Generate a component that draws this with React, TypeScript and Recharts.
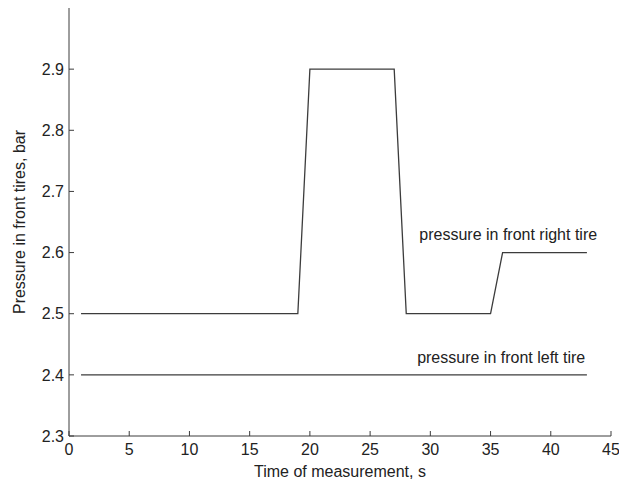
import { LineChart, Line, XAxis, YAxis, ReferenceDot } from "recharts";

// time of measurement, s
const times = [1, 19, 20, 27, 28, 35, 36, 43];
// pressure, bar
const frontRight = [2.5, 2.5, 2.9, 2.9, 2.5, 2.5, 2.6, 2.6];
const frontLeft = [2.4, 2.4, 2.4, 2.4, 2.4, 2.4, 2.4, 2.4];

const xTicks = [0, 5, 10, 15, 20, 25, 30, 35, 40, 45];
const yTicks = [2.3, 2.4, 2.5, 2.6, 2.7, 2.8, 2.9];

const rows = times.map((t, i) => ({ t, right: frontRight[i], left: frontLeft[i] }));

const FONT = "'Liberation Sans', Arial, sans-serif";
const INK = "#222";
const LINE = "#3c3c3c";

const YTitle = ({ viewBox }: any) => {
  const x = viewBox.x + 10;
  const y = viewBox.y + viewBox.height / 2;
  return (
    <text
      x={x}
      y={y}
      transform={`rotate(-90 ${x} ${y})`}
      textAnchor="middle"
      dominantBaseline="central"
      fontSize={16}
      fontFamily={FONT}
      fill={INK}
    >
      Pressure in front tires, bar
    </text>
  );
};

export default function App() {
  const tick = { fontSize: 16, fontFamily: FONT, fill: INK };
  return (
    <div style={{ position: "absolute", left: 0, top: 0, width: 619, height: 491, background: "#fff" }}>
      <LineChart width={619} height={491} data={rows} margin={{ top: 8, right: 8, left: 9, bottom: 25 }}>
        <XAxis
          dataKey="t"
          type="number"
          domain={[0, 45]}
          ticks={xTicks}
          height={30}
          tickSize={-5}
          tickMargin={13}
          tick={tick}
          stroke={LINE}
          label={{ value: "Time of measurement, s", position: "bottom", offset: 0, fontSize: 16, fontFamily: FONT, fill: INK }}
        />
        <YAxis
          type="number"
          domain={[2.3, 3.0]}
          ticks={yTicks}
          width={60}
          tickSize={-5}
          tickMargin={10}
          tick={tick}
          stroke={LINE}
          tickFormatter={(v: number) => v.toFixed(1)}
          label={<YTitle />}
        />
        <Line dataKey="right" stroke={LINE} strokeWidth={1.3} dot={false} isAnimationActive={false} />
        <Line dataKey="left" stroke={LINE} strokeWidth={1.3} dot={false} isAnimationActive={false} />
        <ReferenceDot
          x={43.85}
          y={2.63}
          r={0}
          stroke="none"
          fill="none"
          label={{ value: "pressure in front right tire", position: "left", offset: 0, fontSize: 16, fontFamily: FONT, fill: INK }}
        />
        <ReferenceDot
          x={42.86}
          y={2.429}
          r={0}
          stroke="none"
          fill="none"
          label={{ value: "pressure in front left tire", position: "left", offset: 0, fontSize: 16, fontFamily: FONT, fill: INK }}
        />
      </LineChart>
    </div>
  );
}
